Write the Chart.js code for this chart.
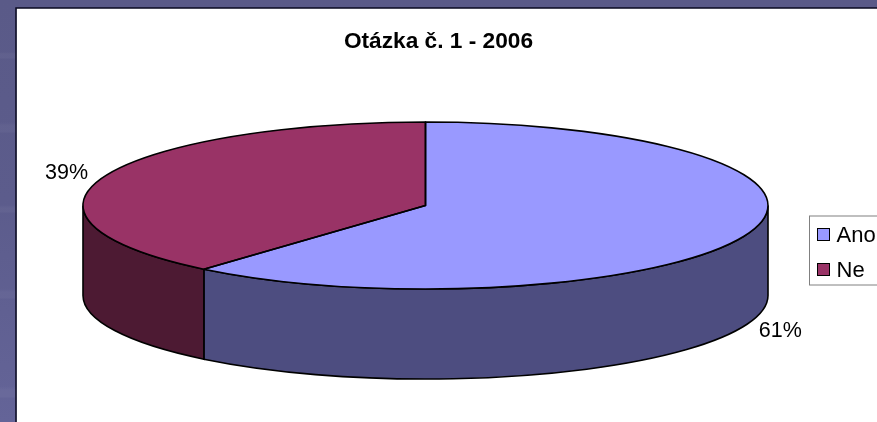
<!DOCTYPE html>
<html><head><meta charset="utf-8">
<style>
html,body{margin:0;padding:0;width:877px;height:422px;overflow:hidden}
body{background:
 linear-gradient(180deg,transparent 52px,rgba(255,255,255,.04) 54px,rgba(255,255,255,.04) 58px,transparent 59px,transparent 122px,rgba(255,255,255,.04) 126px,rgba(255,255,255,.04) 132px,transparent 133px,transparent 205px,rgba(255,255,255,.04) 208px,rgba(255,255,255,.04) 212px,transparent 213px,transparent 289px,rgba(255,255,255,.04) 292px,rgba(255,255,255,.04) 298px,transparent 299px,transparent 386px,rgba(255,255,255,.04) 390px,rgba(255,255,255,.04) 397px,transparent 398px),
 linear-gradient(180deg,#5a5a88 0,#5c5c8c 200px,#646498 422px)}
#c{position:absolute;left:0;top:0}
</style>
<script src="https://cdn.jsdelivr.net/npm/chart.js@4/dist/chart.umd.min.js"></script>
</head><body>
<canvas id="c" width="877" height="422"></canvas>
<script>
const categories = ['Ano', 'Ne'];
const values = [61.2, 38.8];
const faceColors = ['#9999FF', '#993366'];
const wallColors = ['#4D4D80', '#4D1A33'];
const chartTitle = 'Otázka č. 1 - 2006';

const FONT = '"Liberation Sans", Arial, sans-serif';
const GEO = { cx: 425.5, cy: 205.5, rx: 342.5, ry: 83.5, depth: 90 };
const FRAME = { x: 16.5, y: 8 };
const LEGEND = { left: 803, top: 212, right: 900, bottom: 335 };
const LEGEND_BOX = { x: 809.5, y: 216, h: 69 };
const SWATCH = { x: 817.5, size: 12, ys: [228, 263] };

function ellipsePath(ctx, a, b, dy, ccw) {
  ctx.ellipse(GEO.cx, GEO.cy + dy, GEO.rx, GEO.ry, 0, a, b, !!ccw);
}

const frame = {
  id: 'frame',
  beforeDraw(chart) {
    const c = chart.ctx;
    c.save();
    c.fillStyle = '#fff';
    c.fillRect(FRAME.x, FRAME.y, chart.width, chart.height);
    c.strokeStyle = '#0a0a20';
    c.lineWidth = 1.5;
    c.strokeRect(FRAME.x - .5, FRAME.y, chart.width + 20, chart.height + 20);
    c.restore();
  }
};

const fixLegend = {
  id: 'fixLegend',
  afterLayout(chart) {
    Object.assign(chart.legend, LEGEND, { width: LEGEND.right - LEGEND.left, height: LEGEND.bottom - LEGEND.top });
  },
  beforeDatasetsDraw(chart) {
    const c = chart.ctx;
    c.save();
    c.strokeStyle = '#808080';
    c.lineWidth = 1;
    c.strokeRect(LEGEND_BOX.x, LEGEND_BOX.y, 100, LEGEND_BOX.h);
    c.restore();
  },
  afterDraw(chart) {
    const c = chart.ctx;
    c.save();
    c.strokeStyle = '#000';
    c.lineWidth = 1;
    faceColors.forEach((col, i) => {
      c.fillStyle = col;
      c.fillRect(SWATCH.x, SWATCH.ys[i] + .5, SWATCH.size, SWATCH.size);
      c.strokeRect(SWATCH.x, SWATCH.ys[i] + .5, SWATCH.size, SWATCH.size);
    });
    c.restore();
  }
};

const pie3d = {
  id: 'pie3d',
  beforeDatasetDraw(chart, args) {
    const c = chart.ctx, arcs = chart.getDatasetMeta(args.index).data;
    c.save();
    // extruded side walls, following each slice's own angles
    arcs.forEach((arc, i) => {
      const a = Math.max(arc.startAngle, 0), b = Math.min(arc.endAngle, Math.PI);
      if (b <= a) return;
      c.beginPath();
      ellipsePath(c, a, b, 0);
      ellipsePath(c, b, a, GEO.depth, true);
      c.closePath();
      c.fillStyle = wallColors[i];
      c.fill();
      c.strokeStyle = '#000';
      c.lineWidth = 1.6;
      c.stroke();
    });
    // squash the library's circular arcs into the top ellipse
    const r = arcs[0].outerRadius;
    c.translate(GEO.cx, GEO.cy);
    c.scale(GEO.rx / r, GEO.ry / r);
    c.translate(-arcs[0].x, -arcs[0].y);
  },
  afterDatasetDraw(chart, args) {
    const c = chart.ctx, arcs = chart.getDatasetMeta(args.index).data;
    c.restore();
    c.save();
    c.strokeStyle = '#000';
    c.lineWidth = 1.6;
    c.lineJoin = 'round';
    arcs.forEach(arc => {
      c.beginPath();
      c.moveTo(GEO.cx, GEO.cy);
      ellipsePath(c, arc.startAngle, arc.endAngle, 0);
      c.closePath();
      c.stroke();
    });
    const total = values.reduce((s, v) => s + v, 0);
    c.fillStyle = '#000';
    c.font = '21.5px ' + FONT;
    c.textAlign = 'center';
    c.textBaseline = 'middle';
    arcs.forEach((arc, i) => {
      const m = (arc.startAngle + arc.endAngle) / 2;
      const front = Math.sin(m) > 0;
      const x = GEO.cx + GEO.rx * 1.11 * Math.cos(m) + (front ? -2 : -2);
      const y = GEO.cy + GEO.ry * 1.11 * Math.sin(m) + (front ? GEO.depth + 4 : 0);
      c.fillText(Math.round(values[i] / total * 100) + '%', x, y);
    });
    c.restore();
  }
};

new Chart(document.getElementById('c'), {
  type: 'pie',
  data: { labels: categories, datasets: [{ data: values, backgroundColor: faceColors, borderWidth: 0 }] },
  plugins: [frame, fixLegend, pie3d],
  options: {
    responsive: false,
    animation: false,
    events: [],
    layout: { padding: { top: 28 } },
    plugins: {
      tooltip: { enabled: false },
      title: { display: true, text: chartTitle, color: '#000', font: { family: FONT, size: 22.7, weight: 'bold' }, padding: { top: 0, bottom: 0 } },
      legend: {
        display: true, position: 'right', align: 'start',
        labels: {
          font: { family: FONT, size: 22 }, color: '#000',
          boxWidth: 9.5, boxHeight: 12, padding: 13,
          generateLabels() {
            return categories.map((t, i) => ({ text: t, fillStyle: 'rgba(0,0,0,0)', strokeStyle: 'rgba(0,0,0,0)', lineWidth: 0, index: i, hidden: false }));
          }
        }
      }
    }
  }
});
</script>
</body></html>
